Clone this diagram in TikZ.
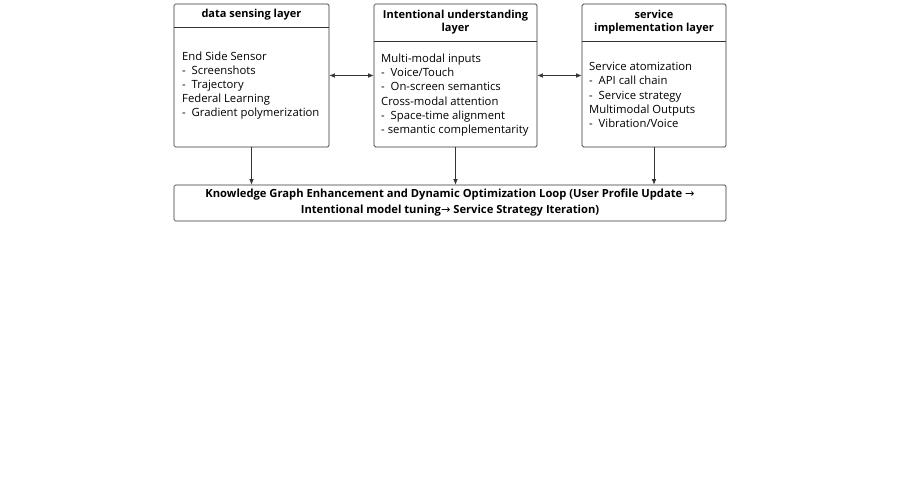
\documentclass[tikz,border=0pt]{standalone}
\usepackage{fontspec}
\setmainfont{Open Sans}
\newfontfamily\arrowfont{DejaVu Sans}
\usetikzlibrary{arrows.meta,positioning}
\newcommand{\ra}{{\arrowfont\mdseries →}}
\begin{document}
\begin{tikzpicture}[x=1pt,y=1pt,>={Latex[length=5.5pt,width=4.5pt]},
  layer/.style={draw=black!80,rounded corners=1.5pt,line width=0.7pt,inner sep=0pt},
  head/.style={font=\bfseries\fontsize{11}{13}\selectfont,align=center,inner sep=0pt},
  body/.style={font=\fontsize{11.3}{14.2}\selectfont,align=left,anchor=west,inner sep=0pt},
  link/.style={draw=black!80,line width=0.6pt}]
  \useasboundingbox (0,0) rectangle (901,-484);
  % layer boxes
  \node[layer,minimum width=155,minimum height=143] (sense) at (251.5,-75.5) {};
  \node[layer,minimum width=163,minimum height=143] (intent) at (455.5,-75.5) {};
  \node[layer,minimum width=144,minimum height=143] (service) at (654,-75.5) {};
  % headers
  \node[head] (senseh) at (251.5,-14.5) {data sensing layer};
  \node[head] (intenth) at (455.5,-22.5) {Intentional understanding\\layer};
  \node[head] (serviceh) at (654,-22.5) {service\\implementation layer};
  \draw[link] (sense.west |- 0,-27) -- (sense.east |- 0,-27);
  \draw[link] (intent.west |- 0,-41) -- (intent.east |- 0,-41);
  \draw[link] (service.west |- 0,-41) -- (service.east |- 0,-41);
  % contents
  \node[body] (sensetxt) at (182,-85.5) {End Side Sensor\\-\ \ Screenshots\\-\ \ Trajectory\\Federal Learning\\-\ \ Gradient polymerization};
  \node[body] (intenttxt) at (381,-95) {Multi-modal inputs\\-\ \ Voice/Touch\\-\ \ On-screen semantics\\Cross-modal attention\\-\ \ Space-time alignment\\- semantic complementarity};
  \node[body] (servicetxt) at (589,-95) {Service atomization\\-\ \ API call chain\\-\ \ Service strategy\\Multimodal Outputs\\-\ \ Vibration/Voice};
  % loop box
  \node[layer,minimum width=552,minimum height=36,align=center,
    font=\bfseries\fontsize{11.2}{16}\selectfont] (loop) at (450,-203)
    {Knowledge Graph Enhancement and Dynamic Optimization Loop (User Profile Update \ra\\Intentional model tuning\ra\ Service Strategy Iteration)};
  % connectors
  \draw[link,<->] (sense.east) -- (intent.west);
  \draw[link,<->] (intent.east) -- (service.west);
  \draw[link,->] (sense.south) -- (sense.south |- loop.north);
  \draw[link,->] (intent.south) -- (intent.south |- loop.north);
  \draw[link,->] (service.south) -- (service.south |- loop.north);
\end{tikzpicture}
\end{document}
